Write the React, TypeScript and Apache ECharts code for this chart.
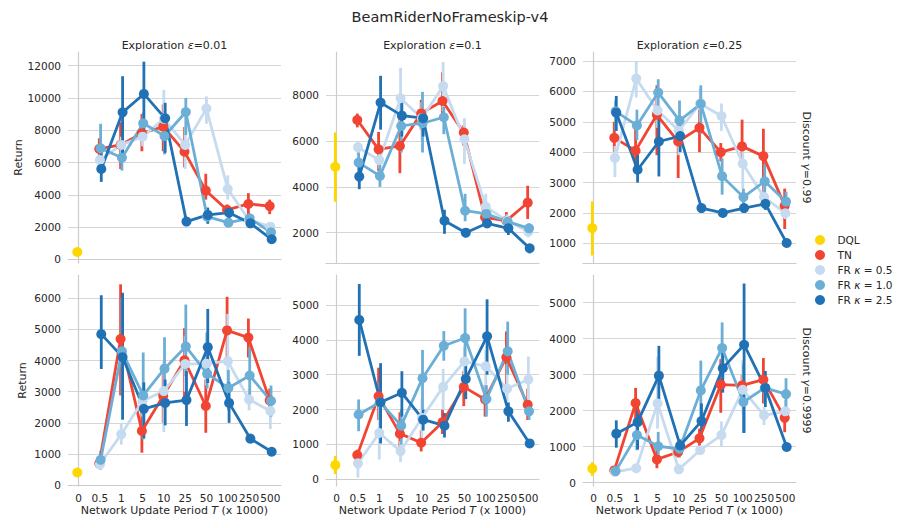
import React, { useEffect, useRef } from 'react';
import * as echarts from 'echarts';

// ---------- data ----------
const categories = ['0', '0.5', '1', '5', '10', '25', '50', '100', '250', '500'];
const seriesNames = ['DQL', 'TN', 'FR κ = 0.5', 'FR κ = 1.0', 'FR κ = 2.5'];
const epsLabels = ['0.01', '0.1', '0.25'];
const gammaLabels = ['0.99', '0.9999'];

// each entry: [mean, ci low, ci high]
// Panel A: eps 0.01, gamma 0.99
const dqlA = [450, 380, 520];
const tnA = [[6840, 6400, 7500], [7090, 5600, 8500], [7810, 6700, 9000], [8220, 6700, 9600], [6670, 5700, 8200], [4260, 3700, 5300], [3060, 2700, 3400], [3430, 2800, 4100], [3300, 2800, 3700]];
const fr05A = [[6160, 5800, 6500], [7090, 6000, 7600], [7600, 7000, 8200], [8700, 7800, 10500], [7090, 5600, 8200], [9340, 8400, 10100], [4360, 3700, 5200], [2440, 2100, 2800], [2020, 1800, 2200]];
const fr10A = [[6880, 5800, 8400], [6300, 5500, 7200], [8430, 7700, 9100], [7640, 6500, 8800], [9130, 7700, 10000], [2640, 2400, 3200], [2270, 2100, 2500], [2540, 2300, 2750], [1670, 1450, 1900]];
const fr25A = [[5600, 4800, 6800], [9110, 6300, 11350], [10250, 7800, 12250], [8740, 6600, 9700], [2335, 2150, 2500], [2750, 2200, 3200], [2890, 2450, 3250], [2230, 2050, 2400], [1240, 1050, 1400]];

// Panel B: eps 0.1, gamma 0.99
const dqlB = [4880, 3350, 6380];
const tnB = [[6920, 6600, 7200], [5640, 4700, 6400], [5790, 4600, 7000], [7210, 6500, 7800], [7750, 7200, 9000], [6370, 5800, 6700], [2670, 2400, 3000], [2520, 2300, 2900], [3310, 2600, 4050]];
const fr05B = [[5730, 5400, 6000], [5170, 4800, 5700], [7870, 6500, 9200], [7000, 6000, 7700], [8400, 7300, 9450], [6080, 5000, 7000], [3140, 2700, 3700], [2520, 2300, 2800], [2040, 1800, 2300]];
const fr10B = [[5060, 4600, 5500], [4480, 4000, 5000], [6660, 5500, 7800], [6780, 5500, 8150], [7040, 6300, 7500], [2960, 2500, 3700], [2820, 2600, 3100], [2480, 2200, 2700], [2190, 2000, 2400]];
const fr25B = [[4450, 3900, 5000], [7680, 6500, 8850], [7110, 6200, 7900], [7000, 6200, 7300], [2520, 1950, 3000], [2000, 1800, 2200], [2410, 2200, 2700], [2190, 1900, 2500], [1320, 1100, 1500]];

// Panel C: eps 0.25, gamma 0.99
const dqlC = [1500, 600, 2380];
const tnC = [[4470, 4000, 5000], [4050, 3400, 4800], [5230, 3900, 6200], [4350, 3150, 5100], [4800, 4000, 5400], [4000, 3700, 4300], [4190, 3600, 5070], [3870, 2700, 4770], [2240, 1470, 2800]];
const fr05C = [[3810, 3180, 4200], [6420, 5800, 7000], [5370, 4800, 5900], [4710, 3900, 5200], [5590, 5000, 6100], [5190, 4700, 5600], [3620, 2800, 4200], [2520, 2200, 2900], [1990, 1800, 2200]];
const fr10C = [[5340, 4700, 5700], [4880, 4400, 5400], [5960, 5400, 6400], [5040, 4200, 5700], [5590, 4600, 6200], [3210, 2600, 3800], [2520, 2200, 2800], [3040, 2500, 3600], [2370, 2000, 2700]];
const fr25C = [[5300, 4700, 5850], [3420, 3000, 4000], [4350, 3200, 5500], [4530, 4000, 5100], [2160, 2000, 2300], [2000, 1900, 2100], [2160, 2050, 2250], [2300, 2100, 2500], [1010, 900, 1100]];

// Panel D: eps 0.01, gamma 0.9999
const dqlD = [405, 340, 470];
const tnD = [[690, 600, 800], [4690, 2880, 6450], [1740, 1040, 2600], [2860, 2000, 3800], [4010, 2800, 5040], [2540, 1680, 3400], [4970, 4000, 6050], [4740, 4100, 5350], [2720, 2400, 3100]];
const fr05D = [[670, 500, 900], [1630, 1300, 2000], [2700, 2200, 3100], [3020, 1700, 4000], [3890, 3000, 4800], [3900, 3200, 4900], [3980, 2900, 5500], [2750, 2400, 3100], [2380, 1800, 2800]];
const fr10D = [[810, 500, 1100], [4300, 2900, 6000], [2880, 1470, 4260], [3740, 2600, 4750], [4450, 3500, 5800], [3580, 3100, 4900], [3120, 2400, 3700], [3520, 2700, 4430], [2700, 2200, 3200]];
const fr25D = [[4850, 3730, 6100], [4110, 2100, 6180], [2450, 1500, 3300], [2640, 1920, 3390], [2730, 1900, 3660], [4430, 3280, 5660], [2640, 2000, 3300], [1490, 1350, 1650], [1070, 1000, 1150]];

// Panel E: eps 0.1, gamma 0.9999
const dqlE = [410, 150, 670];
const tnE = [[695, 550, 850], [2380, 1700, 3200], [1310, 900, 1920], [1050, 800, 1400], [1640, 1300, 2000], [2650, 2100, 3100], [2290, 1800, 2700], [3500, 2700, 4240], [2140, 1700, 2600]];
const fr05E = [[460, 50, 800], [1330, 570, 2290], [810, 500, 1100], [1760, 1000, 2300], [2650, 2000, 3170], [3380, 2800, 3800], [3240, 2500, 3700], [2600, 2200, 3300], [2860, 2000, 3520]];
const fr10E = [[1860, 1380, 2290], [2210, 1700, 2800], [1540, 1000, 2000], [2900, 2000, 3710], [3830, 3400, 4250], [4050, 3400, 4900], [2300, 1800, 2700], [3670, 3000, 4520], [1950, 1700, 2200]];
const fr25E = [[4570, 3540, 5600], [2210, 1030, 3330], [2480, 1800, 3100], [1710, 1400, 2000], [1540, 1200, 1900], [2880, 2300, 3480], [4100, 3000, 5160], [1950, 1650, 2200], [1030, 900, 1150]];

// Panel F: eps 0.25, gamma 0.9999
const dqlF = [390, 190, 570];
const tnF = [[340, 250, 450], [2210, 1570, 2630], [645, 400, 1000], [850, 700, 1000], [1230, 900, 1500], [2720, 1940, 3430], [2700, 2300, 3000], [2860, 2200, 3460], [1800, 1400, 2100]];
const fr05F = [[300, 250, 400], [400, 300, 500], [2200, 1500, 3500], [370, 300, 450], [900, 800, 1000], [1320, 1000, 1700], [2580, 1900, 3400], [1870, 1600, 2100], [1980, 1700, 2300]];
const fr10F = [[320, 250, 400], [1320, 900, 1700], [1010, 700, 1410], [940, 700, 1100], [2560, 1600, 3390], [3740, 2900, 4450], [2240, 1380, 3280], [2630, 2200, 3000], [2460, 1900, 2900]];
const fr25F = [[1360, 970, 1730], [1680, 920, 2320], [2970, 2140, 3800], [1030, 850, 1200], [1710, 1300, 2200], [3180, 2500, 3700], [3830, 1380, 5530], [2630, 2100, 3100], [990, 900, 1100]];

// y axis tick labels and ranges per panel (A..F)
const yTicks = [
  [0, 2000, 4000, 6000, 8000, 10000, 12000],
  [2000, 4000, 6000, 8000],
  [1000, 2000, 3000, 4000, 5000, 6000, 7000],
  [0, 1000, 2000, 3000, 4000, 5000, 6000],
  [0, 1000, 2000, 3000, 4000, 5000],
  [0, 1000, 2000, 3000, 4000, 5000],
];
const yMins = [-230, 677, 352, -30, -190, -94];
const yMaxs = [12850, 9890, 7296, 6750, 5857, 5767];

const panelDQL = [dqlA, dqlB, dqlC, dqlD, dqlE, dqlF];
const panelSeries = [
  [tnA, fr05A, fr10A, fr25A],
  [tnB, fr05B, fr10B, fr25B],
  [tnC, fr05C, fr10C, fr25C],
  [tnD, fr05D, fr10D, fr25D],
  [tnE, fr05E, fr10E, fr25E],
  [tnF, fr05F, fr10F, fr25F],
];

// ---------- style ----------
const colors = ['#ffd700', '#f14432', '#c6dbef', '#6baed6', '#2171b5'];
const dodge = [-0.0625, -0.03125, 0, 0.03125, 0.0625];
const FONT = 'DejaVu Sans';
const TXT = '#262626';
const GRIDC = '#d6d6d6';
const gridLefts = [68, 326, 583];
const gridTops = [52, 275];
const GW = 213;
const GH = 211;
const LW = 2.8;

function buildOption() {
  const grids: any[] = [];
  const xAxes: any[] = [];
  const yAxes: any[] = [];
  const series: any[] = [];

  for (let p = 0; p < 6; p++) {
    const row = Math.floor(p / 3);
    const col = p % 3;
    grids.push({ left: gridLefts[col], top: gridTops[row], width: GW, height: GH, containLabel: false });
    xAxes.push({
      type: 'value',
      gridIndex: p,
      min: -0.5,
      max: 9.5,
      axisLine: { show: true, lineStyle: { color: '#cccccc', width: 1.2 } },
      axisTick: { show: false },
      splitLine: { show: false },
      axisLabel: {
        show: row === 1,
        customValues: [0, 1, 2, 3, 4, 5, 6, 7, 8, 9],
        formatter: (v: number) => categories[Math.round(v)],
        color: TXT,
        fontSize: 10.5,
        fontFamily: FONT,
        margin: 6,
      },
      name: row === 1 ? 'Network Update Period {i|T} (x 1000)' : '',
      nameLocation: 'middle',
      nameGap: 19,
      nameTextStyle: {
        color: TXT,
        fontSize: 11,
        fontFamily: FONT,
        rich: { i: { fontStyle: 'italic', fontSize: 11, fontFamily: FONT, color: TXT } },
      },
    });
    yAxes.push({
      type: 'value',
      gridIndex: p,
      min: yMins[p],
      max: yMaxs[p],
      axisLine: { show: true, lineStyle: { color: '#cccccc', width: 1.2 } },
      axisTick: { show: false, customValues: yTicks[p] },
      splitLine: { show: true, lineStyle: { color: GRIDC, width: 1 } },
      axisLabel: {
        customValues: yTicks[p],
        formatter: (v: number) => String(v),
        color: TXT,
        fontSize: 10.5,
        fontFamily: FONT,
        margin: 7,
      },
      name: col === 0 ? 'Return' : '',
      nameLocation: 'middle',
      nameGap: 40,
      nameTextStyle: { color: TXT, fontSize: 11, fontFamily: FONT },
    });

    for (let h = 0; h < 5; h++) {
      const off = dodge[h];
      let pts: number[][];
      if (h === 0) {
        const d = panelDQL[p];
        pts = [[0 + off, d[0], d[1], d[2]]];
      } else {
        pts = panelSeries[p][h - 1].map((d, i) => [i + 1 + off, d[0], d[1], d[2]]);
      }
      const color = colors[h];
      series.push({
        name: seriesNames[h],
        type: 'custom',
        xAxisIndex: p,
        yAxisIndex: p,
        silent: true,
        itemStyle: { color },
        encode: { x: 0, y: [1, 2] },
        data: pts.map((d) => [d[0], d[2], d[3]]),
        renderItem: (params: any, api: any) => {
          const x = api.value(0);
          const a = api.coord([x, api.value(1)]);
          const b = api.coord([x, api.value(2)]);
          return {
            type: 'line',
            shape: { x1: a[0], y1: a[1], x2: b[0], y2: b[1] },
            style: { stroke: color, lineWidth: LW },
          };
        },
      });
      series.push({
        name: seriesNames[h],
        type: 'line',
        xAxisIndex: p,
        yAxisIndex: p,
        silent: true,
        data: pts.map((d) => [d[0], d[1]]),
        symbol: 'circle',
        symbolSize: 10,
        showSymbol: true,
        lineStyle: { color, width: LW },
        itemStyle: { color },
        emphasis: { disabled: true },
      });
    }
  }

  const graphics: any[] = [
    {
      type: 'text',
      x: 450,
      y: 17,
      style: { text: 'BeamRiderNoFrameskip-v4', fill: TXT, font: `14.5px "${FONT}"`, align: 'center', verticalAlign: 'middle' },
    },
  ];
  for (let c = 0; c < 3; c++) {
    graphics.push({
      type: 'text',
      x: gridLefts[c] + GW / 2,
      y: 45,
      style: {
        text: `Exploration {i|ε}=${epsLabels[c]}`,
        fill: TXT,
        font: `11px "${FONT}"`,
        align: 'center',
        verticalAlign: 'middle',
        rich: { i: { fontStyle: 'italic', fontSize: 11, fontFamily: FONT, fill: TXT } },
      },
    });
  }
  for (let r = 0; r < 2; r++) {
    graphics.push({
      type: 'text',
      x: 806,
      y: gridTops[r] + GH / 2,
      rotation: -Math.PI / 2,
      style: {
        text: `Discount {i|γ}=${gammaLabels[r]}`,
        fill: TXT,
        font: `11px "${FONT}"`,
        align: 'center',
        verticalAlign: 'middle',
        rich: { i: { fontStyle: 'italic', fontSize: 11, fontFamily: FONT, fill: TXT } },
      },
    });
  }

  return {
    animation: false,
    backgroundColor: '#ffffff',
    textStyle: { fontFamily: FONT },
    grid: grids,
    xAxis: xAxes,
    yAxis: yAxes,
    series,
    graphic: graphics,
    legend: {
      data: seriesNames,
      orient: 'vertical',
      left: 810,
      top: 229,
      icon: 'circle',
      itemWidth: 25,
      itemHeight: 10,
      itemGap: 3,
      selectedMode: false,
      formatter: (name: string) => name.replace('κ', '{i|κ}'),
      textStyle: {
        color: TXT,
        fontSize: 10.5,
        fontFamily: FONT,
        lineHeight: 12,
        rich: { i: { fontStyle: 'italic', fontSize: 10.5, fontFamily: FONT, color: TXT } },
      },
    },
  };
}

export default function App() {
  const ref = useRef<HTMLDivElement>(null);
  useEffect(() => {
    if (!ref.current) return;
    const chart = echarts.init(ref.current, undefined, { renderer: 'svg' });
    chart.setOption(buildOption() as any);
    return () => chart.dispose();
  }, []);
  return (
    <div
      ref={ref}
      style={{ position: 'absolute', left: 0, top: 0, width: 900, height: 528, background: '#fff' }}
    />
  );
}
